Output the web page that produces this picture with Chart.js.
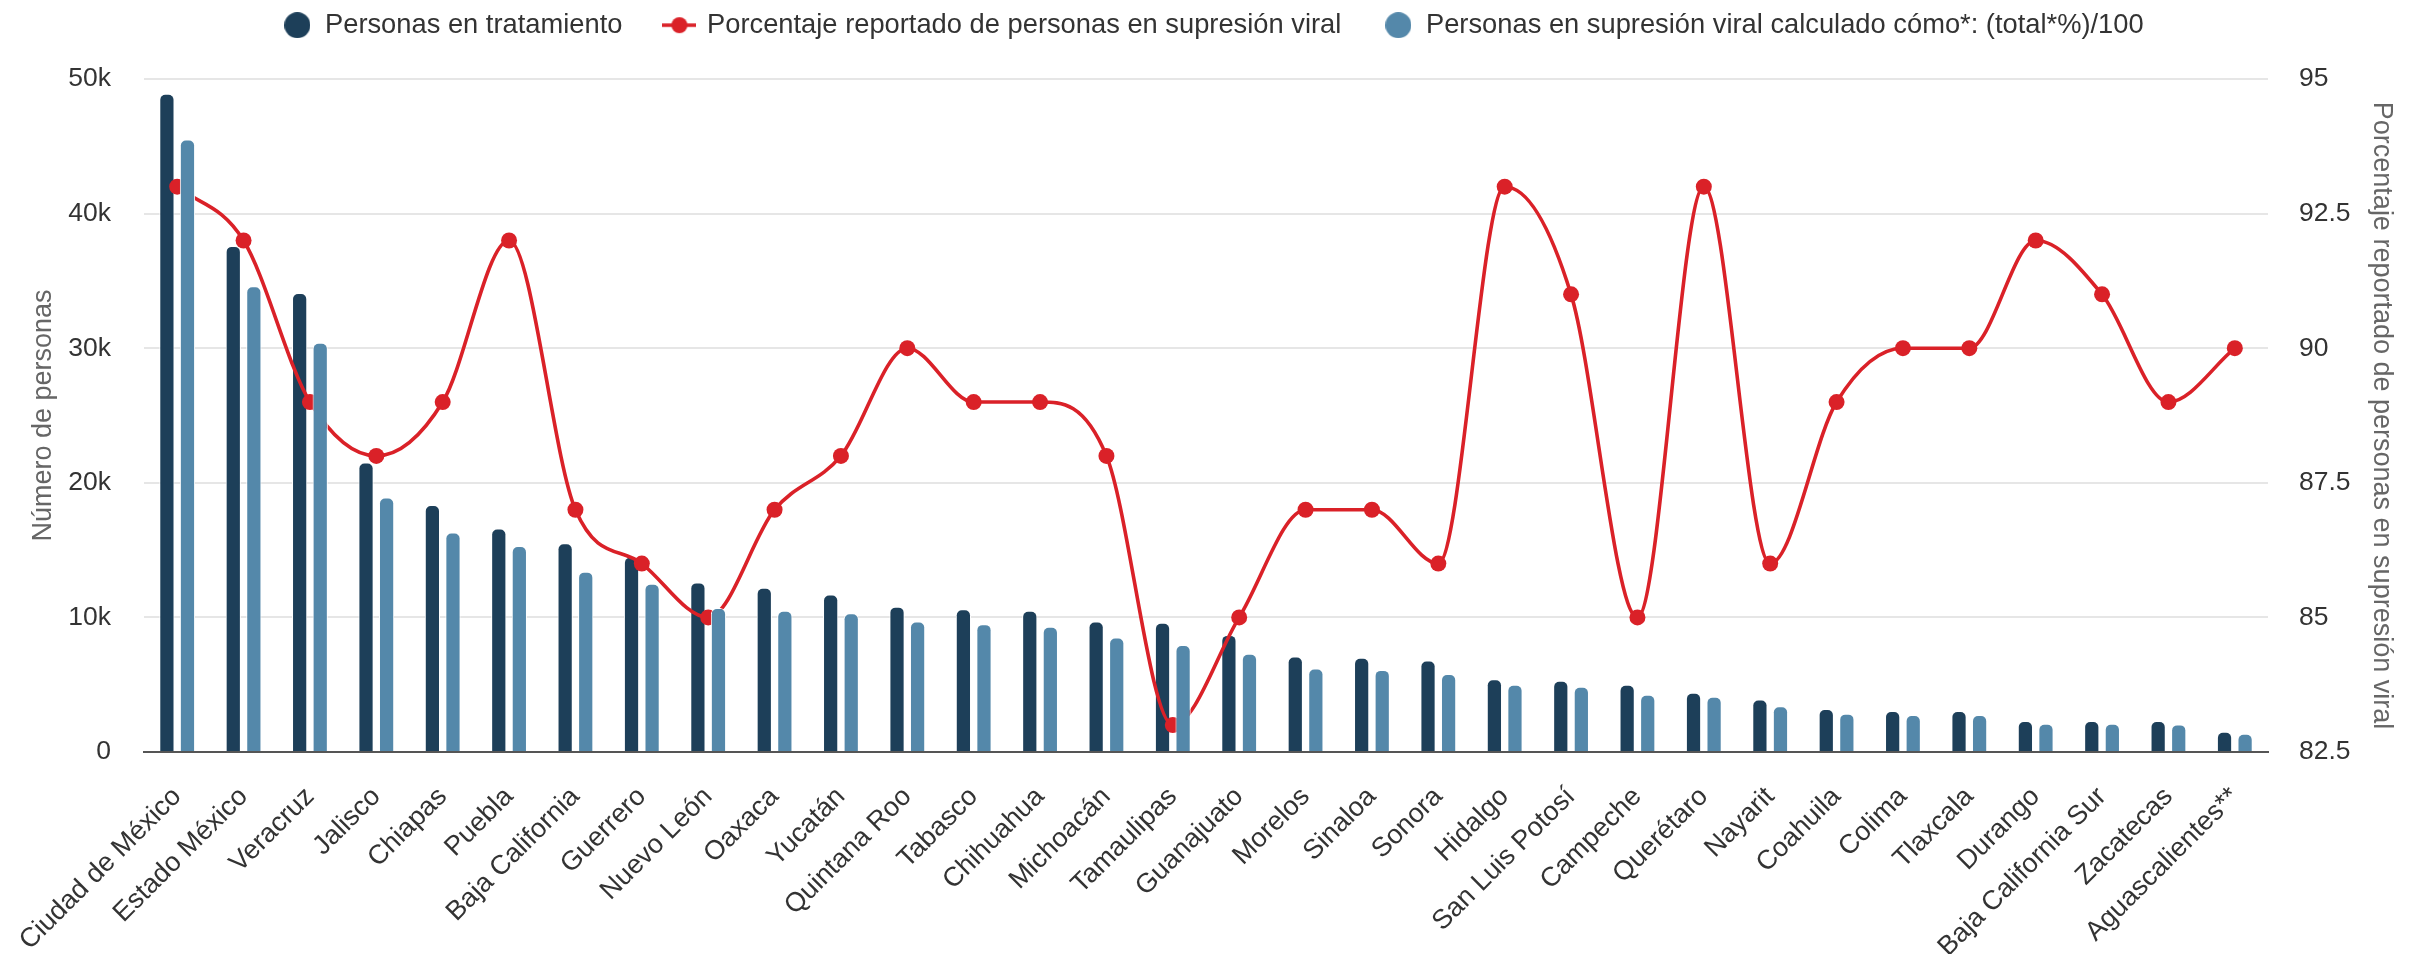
<!DOCTYPE html>
<html><head><meta charset="utf-8">
<script src="https://cdn.jsdelivr.net/npm/chart.js@4"></script>
<style>html,body{margin:0;padding:0;background:#fff;} #wrap{width:2415px;height:954px;position:relative;}</style>
</head><body><div id="wrap"><canvas id="c" width="2415" height="954"></canvas></div>
<script>
const categories = ["Ciudad de México","Estado México","Veracruz","Jalisco","Chiapas","Puebla","Baja California","Guerrero","Nuevo León","Oaxaca","Yucatán","Quintana Roo","Tabasco","Chihuahua","Michoacán","Tamaulipas","Guanajuato","Morelos","Sinaloa","Sonora","Hidalgo","San Luis Potosí","Campeche","Querétaro","Nayarit","Coahuila","Colima","Tlaxcala","Durango","Baja California Sur","Zacatecas","Aguascalientes**"];
const personasTratamiento = [48900,37600,34100,21500,18350,16600,15500,14500,12600,12200,11700,10800,10600,10500,9700,9600,8700,7100,7000,6800,5400,5300,5000,4400,3900,3200,3050,3050,2300,2300,2300,1500];
const porcentajeSupresion = [93,92,89,88,89,92,87,86,85,87,88,90,89,89,88,83,85,87,87,86,93,91,85,93,86,89,90,90,92,91,89,90];
const personasSupresion = [45500,34600,30400,18900,16300,15300,13400,12500,10700,10500,10300,9700,9500,9300,8500,7950,7300,6200,6100,5800,5000,4850,4250,4100,3400,2850,2750,2750,2100,2100,2050,1350];
const leftTickValues = [0,10000,20000,30000,40000,50000];
const leftTickLabels = ["0","10k","20k","30k","40k","50k"];
const rightTickValues = [82.5,85,87.5,90,92.5,95];
const rightTickLabels = ["82.5","85","87.5","90","92.5","95"];
const seriesNames = ["Personas en tratamiento","Porcentaje reportado de personas en supresión viral","Personas en supresión viral calculado cómo*: (total*%)/100"];
const axisTitles = ["Número de personas","Porcentaje reportado de personas en supresión viral"];

const DARK = '#1d3f59', LIGHT = '#5488aa', RED = '#da2128';
const FONT = "'Liberation Sans', Arial, Helvetica, sans-serif";

function circleSymbol(color, d){
  const c = document.createElement('canvas'); c.width = d; c.height = d;
  const x = c.getContext('2d'); x.fillStyle = color; x.beginPath(); x.arc(d/2,d/2,d/2,0,Math.PI*2); x.fill();
  return c;
}
function lineSymbol(color){
  const c = document.createElement('canvas'); c.width = 34; c.height = 18;
  const x = c.getContext('2d'); x.strokeStyle = color; x.lineWidth = 3.5;
  x.beginPath(); x.moveTo(0,9); x.lineTo(34,9); x.stroke();
  x.fillStyle = color; x.beginPath(); x.arc(17,9,8,0,Math.PI*2); x.fill();
  return c;
}
const legendSymbols = [circleSymbol(DARK,26), lineSymbol(RED), circleSymbol(LIGHT,26)];

const fixLegend = {
  id: 'fixLegend',
  beforeLayout(chart){
    const lg = chart.legend;
    if (lg && !lg.__patched){
      const f = lg.fit;
      lg.fit = function(){ f.call(this); this.height = 110.5; };
      lg.__patched = true;
    }
  }
};
// draw dark bars, then the line, then the light bars on top
const drawOrder = {
  id: 'drawOrder',
  beforeDatasetsDraw(chart){
    [0,1,2].forEach(i => {
      const meta = chart.getDatasetMeta(i);
      if (meta && !meta.hidden && meta.controller) meta.controller.draw();
    });
    return false;
  }
};

Chart.defaults.font.family = FONT;

new Chart(document.getElementById('c'), {
  data: {
    labels: categories,
    datasets: [
      { type:'bar', label: seriesNames[0], data: personasTratamiento, backgroundColor: DARK, borderColor:'#ffffff', borderWidth:1, borderRadius:6, borderSkipped:'start', yAxisID:'y', categoryPercentage:0.62, barPercentage:0.74 },
      { type:'line', label: seriesNames[1], data: porcentajeSupresion, borderColor: RED, backgroundColor: RED, borderWidth:3.6, pointRadius:8, pointHoverRadius:8, pointBorderWidth:0, pointBackgroundColor: RED, cubicInterpolationMode:'monotone', yAxisID:'y1' },
      { type:'bar', label: seriesNames[2], data: personasSupresion, backgroundColor: LIGHT, borderColor:'#ffffff', borderWidth:1, borderRadius:6, borderSkipped:'start', yAxisID:'y', categoryPercentage:0.62, barPercentage:0.74 }
    ]
  },
  options: {
    responsive:false, animation:false, devicePixelRatio:1,
    layout:{ padding:{ top:-31.5, left:12, right:0, bottom:0 } },
    plugins:{
      tooltip:{enabled:false},
      legend:{
        position:'top', align:'center',
        labels:{
          usePointStyle:true, pointStyleWidth:28, padding:43, color:'#333333',
          font:{ size:27.3, family:FONT },
          sort:(a,b)=>a.datasetIndex-b.datasetIndex,
          generateLabels(chart){
            const items = Chart.defaults.plugins.legend.labels.generateLabels(chart);
            items.forEach(it=>{ it.pointStyle = legendSymbols[it.datasetIndex]; });
            return items;
          }
        }
      }
    },
    scales:{
      x:{
        grid:{ display:false, drawTicks:false },
        border:{ display:true, color:'#555555', width:2 },
        ticks:{ color:'#333333', font:{ size:27 }, minRotation:45, maxRotation:45, autoSkip:false, padding:29 },
        afterFit(s){ s.height = 202; s.paddingLeft = 0; s.paddingRight = 0; }
      },
      y:{
        position:'left', min:0, max:50000,
        afterBuildTicks(s){ s.ticks = leftTickValues.map(v=>({value:v})); },
        ticks:{ color:'#333333', font:{ size:26.5 }, padding:33, callback:(v)=>leftTickLabels[leftTickValues.indexOf(v)] },
        grid:{ color:'#e6e6e6', lineWidth:2, drawTicks:false },
        border:{ display:false },
        title:{ display:true, text:axisTitles[0], color:'#666666', font:{ size:27 }, padding:{ top:15, bottom:0 } },
        afterFit(s){ s.width = 132; s.paddingTop = 0; s.paddingBottom = 0; }
      },
      y1:{
        position:'right', min:82.5, max:95,
        afterBuildTicks(s){ s.ticks = rightTickValues.map(v=>({value:v})); },
        ticks:{ color:'#333333', font:{ size:26.5 }, padding:31, callback:(v)=>rightTickLabels[rightTickValues.indexOf(v)] },
        grid:{ display:false, drawTicks:false },
        border:{ display:false },
        title:{ display:true, text:axisTitles[1], color:'#666666', font:{ size:27 }, padding:{ top:17, bottom:0 } },
        afterFit(s){ s.width = 147; s.paddingTop = 0; s.paddingBottom = 0; }
      }
    }
  },
  plugins:[fixLegend, drawOrder]
});
</script></body></html>
